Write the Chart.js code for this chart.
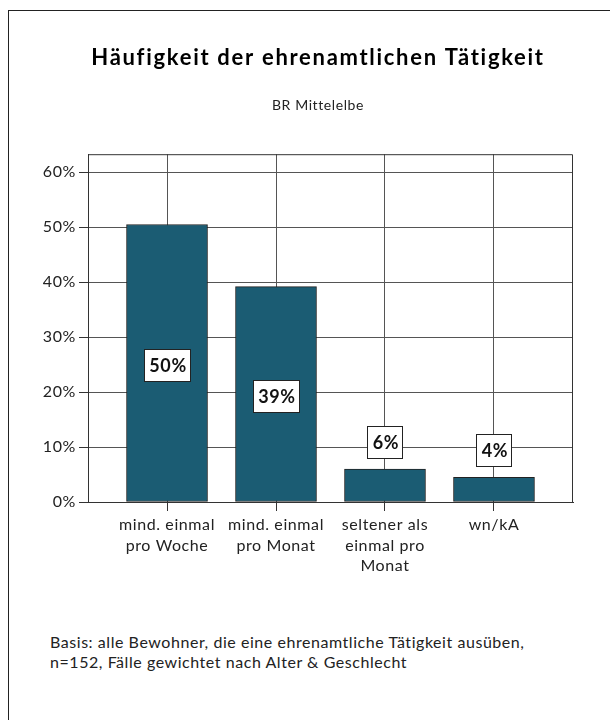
<!DOCTYPE html>
<html>
<head>
<meta charset="utf-8">
<script src="https://cdn.jsdelivr.net/npm/chart.js@4.4.1/dist/chart.umd.min.js"></script>
<style>
  html, body { margin: 0; padding: 0; overflow: hidden; background: #fff; }
  body { width: 610px; height: 720px; position: relative; }
  #frame { position: absolute; left: 8px; top: 10px; width: 700px; height: 800px;
           border-left: 1px solid #222; border-top: 1px solid #222; }
  #chart { position: absolute; left: 0; top: 0; }
  #note { position: absolute; left: 50px; top: 632px; font: 16px Lato, sans-serif;
          letter-spacing: 0.55px; line-height: 20px; color: #222; white-space: nowrap; }
</style>
</head>
<body>
<div id="frame"></div>
<canvas id="chart" width="636" height="600"></canvas>
<div id="note">Basis: alle Bewohner, die eine ehrenamtliche Tätigkeit ausüben,<br>n=152, Fälle gewichtet nach Alter &amp; Geschlecht</div>
<script>
// Daten
var categories = [
    ['mind. einmal', 'pro Woche'],
    ['mind. einmal', 'pro Monat'],
    ['seltener als', 'einmal pro', 'Monat'],
    ['wn/kA']
];
var values = [50.5, 39.2, 6.0, 4.5];
var valueLabels = ['50%', '39%', '6%', '4%'];
var yTicks = [0, 10, 20, 30, 40, 50, 60];

var gridColor = '#555';
var spacing = '0.6px';

// Werte-Kaestchen und Rahmen oben/rechts
var boxLabels = {
    id: 'boxLabels',
    beforeDraw: function (chart) {
        chart.ctx.letterSpacing = spacing;
    },
    beforeDatasetsDraw: function (chart) {
        var a = chart.chartArea, c = chart.ctx;
        c.save();
        c.strokeStyle = '#333';
        c.lineWidth = 1;
        c.beginPath();
        c.moveTo(a.left, a.top + 0.5);
        c.lineTo(a.right - 0.5, a.top + 0.5);
        c.lineTo(a.right - 0.5, a.bottom);
        c.stroke();
        c.restore();
    },
    afterDatasetsDraw: function (chart) {
        var c = chart.ctx;
        var meta = chart.getDatasetMeta(0);
        c.save();
        c.font = 'bold 18px Lato, sans-serif';
        c.textAlign = 'center';
        c.textBaseline = 'middle';
        meta.data.forEach(function (bar, i) {
            var txt = valueLabels[i];
            var w = Math.round(c.measureText(txt).width + 9);
            var h = 32;
            var cy;
            if (bar.base - bar.y > h + 40) {
                cy = (bar.y + bar.base) / 2 + 2;
            } else {
                cy = bar.y - 11 - h / 2;
            }
            var x0 = Math.round(bar.x - w / 2) + 0.5;
            var y0 = Math.round(cy - h / 2) + 0.5;
            c.fillStyle = '#fff';
            c.fillRect(x0, y0, w, h);
            c.strokeStyle = '#222';
            c.lineWidth = 1;
            c.strokeRect(x0, y0, w, h);
            c.fillStyle = '#111';
            c.fillText(txt, bar.x + 1, cy + 1);
        });
        c.restore();
    }
};

var ctx = document.getElementById('chart').getContext('2d');
var myChart = new Chart(ctx, {
    type: 'bar',
    data: {
        datasets: [{
            data: values.map(function (v, i) { return { x: i, y: v }; }),
            backgroundColor: '#1b5c73',
            borderColor: '#222',
            borderWidth: 1,
            borderSkipped: false,
            barThickness: 81
        }]
    },
    options: {
        responsive: false,
        animation: false,
        layout: { padding: 0 },
        plugins: {
            legend: { display: false },
            tooltip: { enabled: false },
            title: {
                display: true,
                text: 'Häufigkeit der ehrenamtlichen Tätigkeit',
                color: '#000',
                font: { family: 'Lato, sans-serif', size: 22, weight: 'bold', lineHeight: 1.2 },
                padding: { top: 45, bottom: 26 }
            },
            subtitle: {
                display: true,
                text: 'BR Mittelelbe',
                color: '#222',
                font: { family: 'Lato, sans-serif', size: 14, lineHeight: 1.2 },
                padding: { top: 0, bottom: 40 }
            }
        },
        scales: {
            x: {
                type: 'linear',
                min: -0.725,
                max: 3.725,
                offset: false,
                afterBuildTicks: function (scale) {
                    scale.ticks = categories.map(function (c, i) { return { value: i }; });
                },
                afterFit: function (scale) { scale.height = 98; },
                ticks: {
                    autoSkip: false,
                    maxRotation: 0,
                    padding: 4,
                    color: '#222',
                    font: { family: 'Lato, sans-serif', size: 16, lineHeight: 1.28 },
                    callback: function (v) { return categories[v]; }
                },
                grid: { offset: false, color: gridColor, tickLength: 9, tickColor: '#333' },
                border: { display: true, color: '#333' }
            },
            y: {
                min: 0,
                max: 63.3,
                afterBuildTicks: function (scale) {
                    scale.ticks = yTicks.map(function (v) { return { value: v }; });
                },
                afterFit: function (scale) { scale.width = 88; },
                ticks: {
                    padding: 3,
                    color: '#222',
                    font: { family: 'Lato, sans-serif', size: 16 },
                    callback: function (v) { return v + '%'; }
                },
                grid: { color: gridColor, tickLength: 9, tickColor: '#333' },
                border: { display: true, color: '#333' }
            },
            // leere Achse rechts, damit der Titel mittig ueber dem Rahmen steht
            yRight: {
                position: 'right',
                min: 0,
                max: 63.3,
                afterFit: function (scale) { scale.width = 63; },
                ticks: { display: false },
                grid: { display: false },
                border: { display: false }
            }
        }
    },
    plugins: [boxLabels]
});

// Titel etwas gesperrt wie im Original
var tb = myChart.titleBlock;
var tbDraw = tb.draw;
tb.draw = function () {
    myChart.ctx.letterSpacing = '1.7px';
    tbDraw.apply(tb, arguments);
    myChart.ctx.letterSpacing = spacing;
};
myChart.update();
</script>
</body>
</html>
